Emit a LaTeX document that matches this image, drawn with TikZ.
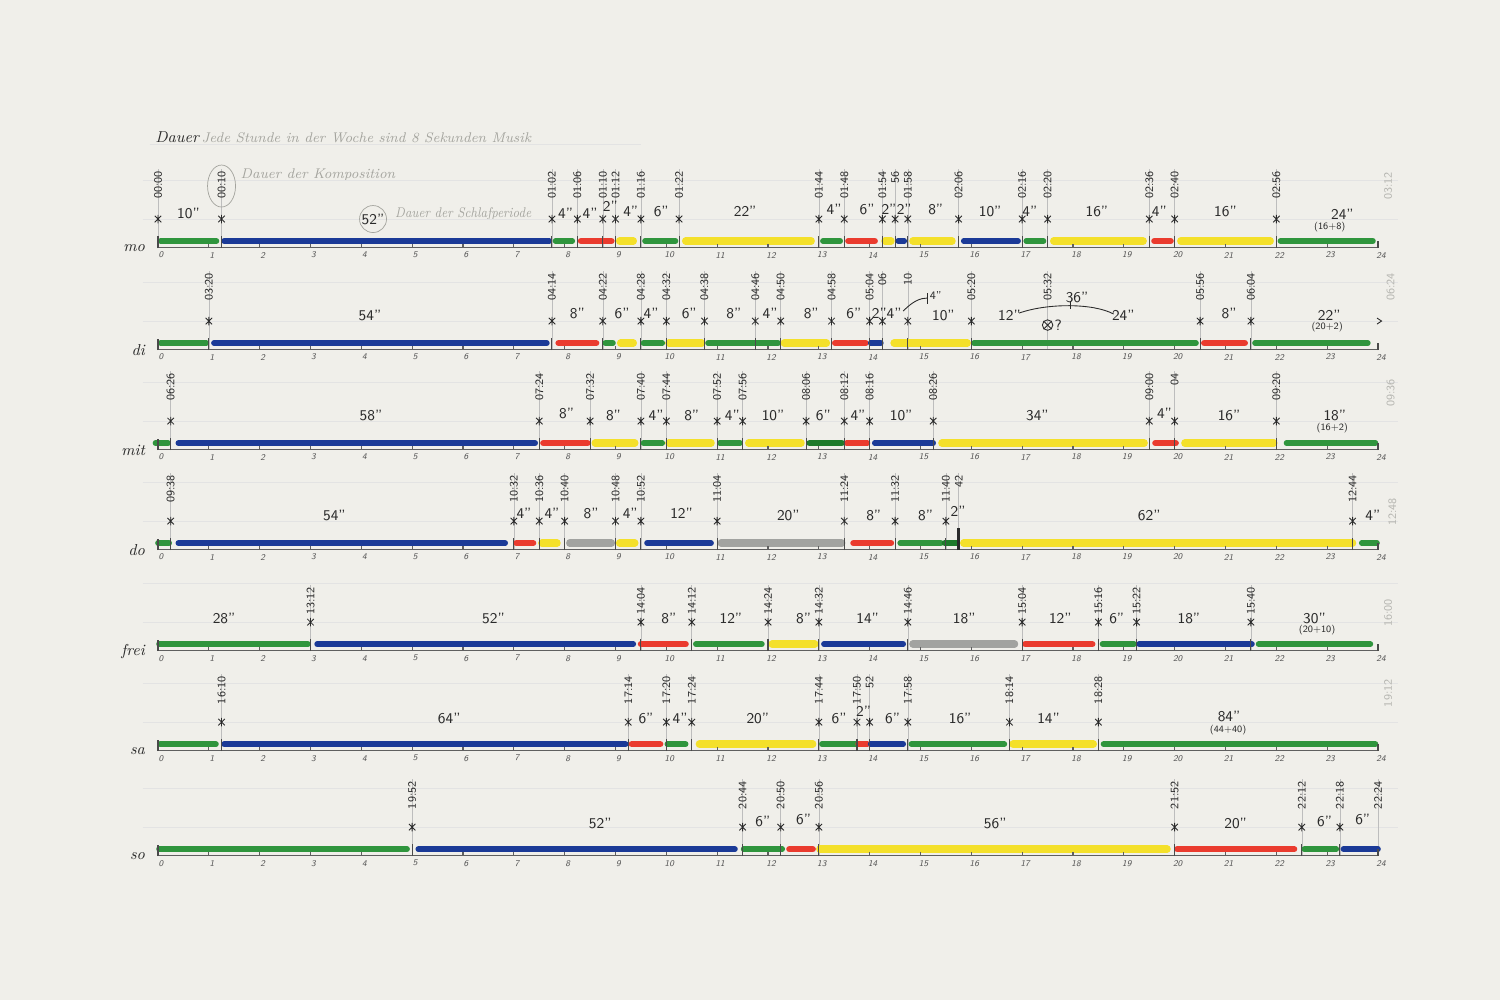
\documentclass[tikz,border=0pt]{standalone}
\usetikzlibrary{calc}
\definecolor{paper}{HTML}{F0EFEA}
\definecolor{cG}{HTML}{2F953D}
\definecolor{cGd}{HTML}{1E7A2B}
\definecolor{cB}{HTML}{1B3A97}
\definecolor{cR}{HTML}{EA3B2E}
\definecolor{cY}{HTML}{F4E02A}
\definecolor{cS}{HTML}{A2A3A0}
\definecolor{pencil}{HTML}{A4A49E}
\definecolor{ink}{HTML}{2A2A2A}
\tikzset{
 seg/.style={line cap=round, line width=3.2pt},
 sg/.style={seg, draw=cG},
 sgd/.style={seg, draw=cGd, line width=3.8pt},
 sb/.style={seg, draw=cB},
 sr/.style={seg, draw=cR, line width=3.6pt},
 sy/.style={seg, draw=cY, line width=4.2pt},
 ss/.style={seg, draw=cS, line width=4.2pt},
 guide/.style={draw=black!11, line width=0.4pt},
 vline/.style={draw=black!26, line width=0.3pt},
 axisline/.style={draw=ink!75, line width=0.6pt},
 btick/.style={draw=ink!85, line width=0.6pt},
 mk/.style={draw=ink, line width=0.5pt},
 ts/.style={rotate=90, font=\fontsize{6.5}{7}\selectfont\sffamily, text=ink, inner sep=0.5pt},
 tsg/.style={ts, text=pencil!80},
 dur/.style={font=\fontsize{8.5}{9}\selectfont\sffamily, text=ink, inner sep=0.5pt},
 subn/.style={font=\fontsize{5.5}{6}\selectfont\sffamily, text=ink, inner sep=0.5pt},
 hnum/.style={font=\fontsize{5}{5}\selectfont\sffamily\itshape, text=ink!80, inner sep=0pt},
 rowlab/.style={font=\fontsize{9}{9}\selectfont\itshape, text=ink, inner sep=0pt},
 note/.style={font=\fontsize{8}{8}\selectfont\itshape, text=pencil, inner sep=0pt},
 astx/.pic={\draw[mk] (0cm,-0.085cm)--(0cm,0.085cm) (-0.065cm,-0.065cm)--(0.065cm,0.065cm) (-0.065cm,0.065cm)--(0.065cm,-0.065cm);},
}
% #1 axis y, #2 name, #3 label, #4 timestamps, #5 markers, #6 segments, #7 durations, #8 timestamp top offset
\newcommand\DrawRow[8]{%
 \def\rowA{#1}\def\rowT{#8}%
 \draw[guide] (-0.3,\rowA-67) -- (24.4,\rowA-67);
 \draw[guide] (-0.3,\rowA-28) -- (24.4,\rowA-28);
 \foreach \h/\t [count=\i] in {#4} {
   \draw[vline] (\h,\rowA-\rowT-1) -- (\h,\rowA);
   \node[ts, anchor=east] (#2-ts\i) at (\h,\rowA-\rowT) {\t};
 }
 \foreach \c/\a/\b in {#6} { \draw[\c] (\a,\rowA-6) -- (\b,\rowA-6); }
 \draw[axisline] (0,\rowA) -- (24,\rowA);
 \foreach \k in {1,...,23} \draw[axisline] (\k,\rowA) -- (\k,\rowA-3.5);
 \draw[btick] (0,\rowA+1) -- (0,\rowA-10);
 \draw[btick] (24,\rowA+1) -- (24,\rowA-6);
 \foreach \k in {0,...,24} \node[hnum] (#2-n\k) at (\k+0.06,\rowA+8) {\k};
 \foreach \h in {#5} { \draw[btick] (\h,\rowA+1) -- (\h,\rowA-11); \pic at (\h,\rowA-28) {astx}; }
 \foreach \h/\dy/\t [count=\i] in {#7} { \node[dur] (#2-d\i) at (\h,\rowA-\dy) {\t}; }
 \node[rowlab, anchor=east] (#2-lab) at (-0.25,\rowA+1) {#3};
}
\begin{document}
\begin{tikzpicture}[x=1.016667cm, y=-0.02cm]
\useasboundingbox (-3.1083,0) rectangle (26.4,1000);
\fill[paper] (-3.1083,0) rectangle (26.4,1000);

% header
\draw[guide] (-0.16,144) -- (9.5,144);
\node[font=\fontsize{9}{9}\selectfont\itshape, text=ink, inner sep=0pt, anchor=base west] (dauer) at (-0.06,142) {Dauer};
\node[note, anchor=base west] (jede) at (0.85,142) {Jede Stunde in der Woche sind 8 Sekunden Musik};
\node[note, anchor=base west] (komp) at (1.62,178) {Dauer der Komposition};
\node[note, anchor=base west] (schlaf) at (4.66,217) {\scalebox{0.86}[1]{Dauer der Schlafperiode}};

% Montag
\DrawRow{247}{mo}{mo}
 {0/00:00, 1.25/00:10, 7.75/01:02, 8.25/01:06, 8.75/01:10, 9/01:12, 9.5/01:16, 10.25/01:22, 13/01:44, 13.5/01:48, 14.25/01:54, 14.5/56, 14.75/01:58, 15.75/02:06, 17/02:16, 17.5/02:20, 19.5/02:36, 20/02:40, 22/02:56}
 {0,1.25,7.75,8.25,8.75,9,9.5,10.25,13,13.5,14.25,14.5,14.75,15.75,17,17.5,19.5,20,22}
 {sg/0.05/1.15, sb/1.3/7.7, sg/7.82/8.15, sr/8.32/8.92, sy/9.08/9.35, sg/9.58/10.18, sy/10.38/12.85, sg/13.08/13.42, sr/13.58/14.1, sy/14.3/14.42, sb/14.56/14.68, sy/14.85/15.62, sb/15.85/16.92, sg/17.08/17.42, sy/17.62/19.38, sr/19.6/19.92, sy/20.12/21.88, sg/22.08/23.9}
 {0.6/34/10", 8.02/34/4", 8.5/34/4", 8.9/41/2", 9.3/36/4", 9.9/36/6", 11.55/36/22", 13.3/38/4", 13.95/38/6", 14.38/38/2", 14.68/38/2", 15.3/38/8", 16.37/36/10", 17.15/36/4", 18.47/36/16", 19.7/36/4", 21.0/36/16", 23.3/33/24"}
 {77}
\draw[pencil] (1.25,186) ellipse [x radius=0.28cm, y radius=0.42cm];
\node[dur] (mo-52) at (4.23,219) {52"};
\draw[pencil] (mo-52.center) circle [radius=0.27cm];
\node[subn] (mo-sum) at (23.05,227) {(16+8)};
\node[tsg, anchor=east] (mo-end) at (24.2,171) {03:12};

% Dienstag
\DrawRow{349}{di}{di}
 {1/03:20, 7.75/04:14, 8.75/04:22, 9.5/04:28, 10/04:32, 10.75/04:38, 11.75/04:46, 12.25/04:50, 13.25/04:58, 14/05:04, 14.25/06, 14.75/10, 16/05:20, 17.5/05:32, 20.5/05:56, 21.5/06:04}
 {1,7.75,8.75,9.5,10,10.75,11.75,12.25,13.25,14,14.25,14.75,16,20.5,21.5}
 {sg/0.05/0.95, sb/1.1/7.65, sr/7.88/8.62, sg/8.8/8.95, sy/9.1/9.35, sg/9.55/9.92, sy/10.05/10.7, sg/10.82/12.2, sy/12.32/13.15, sr/13.32/13.92, sb/14.02/14.22, sy/14.48/15.92, sg/16.05/20.42, sr/20.58/21.38, sg/21.58/23.8}
 {4.17/34/54", 8.25/36/8", 9.13/36/6", 9.7/36/4", 10.45/36/6", 11.33/36/8", 12.04/36/4", 12.85/36/8", 13.69/36/6", 14.19/36/2", 14.48/36/4", 15.45/34/10", 16.75/34/12", 18.99/34/24", 21.07/36/8", 23.04/34/22"}
 {77}
\draw[mk] (14.66,311) .. controls (14.85,301) and (15.0,298) .. (15.13,298);
\draw[mk] (15.13,293) -- (15.13,304);
\node[subn, font=\fontsize{6.5}{7}\selectfont\sffamily] (di-4b) at (15.3,295) {4"};
\draw[mk] (16.94,313) .. controls (17.5,303) and (18.4,303) .. (18.8,314);
\draw[mk] (17.95,301) -- (17.95,309);
\node[dur] (di-36) at (18.08,297) {36"};
\node[circle, draw=ink, line width=0.5pt, inner sep=0pt, minimum size=0.21cm] (di-q) at (17.5,325) {};
\draw[mk] (di-q.45) -- (di-q.225) (di-q.135) -- (di-q.315);
\node[dur, anchor=west] (di-qm) at (di-q.east) {?};
\draw[mk] (23.98,318) -- (24.07,321) -- (23.98,324);
\node[subn] (di-sum) at (23.0,327) {(20+2)};
\node[tsg, anchor=east] (di-end) at (24.25,272) {06:24};

% Mittwoch
\DrawRow{449}{mit}{mit}
 {0.25/06:26, 7.5/07:24, 8.5/07:32, 9.5/07:40, 10/07:44, 11/07:52, 11.5/07:56, 12.75/08:06, 13.5/08:12, 14/08:16, 15.25/08:26, 19.5/09:00, 20/04, 22/09:20}
 {0.25,7.5,8.5,9.5,10,11,11.5,12.75,13.5,14,15.25,19.5,20,22}
 {sg/-0.05/0.2, sb/0.4/7.42, sr/7.58/8.45, sy/8.6/9.38, sg/9.55/9.92, sy/10.05/10.88, sg/11.05/11.45, sy/11.62/12.65, sgd/12.82/13.45, sr/13.55/13.95, sb/14.1/15.25, sy/15.42/19.4, sr/19.62/20.02, sy/20.2/21.95, sg/22.2/23.95}
 {4.19/34/58", 8.04/36/8", 8.96/34/8", 9.8/34/4", 10.5/34/8", 11.3/34/4", 12.1/34/10", 13.09/34/6", 13.77/34/4", 14.62/34/10", 17.3/34/34", 19.8/36/4", 21.07/34/16", 23.15/34/18"}
 {77}
\node[subn] (mit-sum) at (23.1,428) {(16+2)};
\node[tsg, anchor=east] (mit-end) at (24.25,378) {09:36};

% Donnerstag
\DrawRow{549}{do}{do}
 {0.25/09:38, 7/10:32, 7.5/10:36, 8/10:40, 9/10:48, 9.5/10:52, 11/11:04, 13.5/11:24, 14.5/11:32, 15.5/11:40, 15.75/42, 23.5/12:44}
 {0.25,7,7.5,8,9,9.5,11,13.5,14.5,15.5,23.5}
 {sg/0/0.22, sb/0.4/6.83, sr/7.05/7.38, sy/7.55/7.85, ss/8.1/8.92, sy/9.08/9.38, sb/9.62/10.88, ss/11.08/13.45, sr/13.68/14.42, sg/14.6/15.4, sgd/15.48/15.7, sy/15.85/23.5, sg/23.68/23.98}
 {3.47/34/54", 7.2/36/4", 7.75/36/4", 8.52/36/8", 9.29/36/4", 10.3/36/12", 12.4/34/20", 14.08/34/8", 15.1/34/8", 15.74/38/2", 19.5/34/62", 23.9/34/4"}
 {75}
\draw[ink, line width=1.3pt] (15.75,550) -- (15.75,528);
\node[tsg, anchor=east] (do-end) at (24.28,497) {12:48};

% Freitag
\DrawRow{650}{frei}{frei}
 {3/13:12, 9.5/14:04, 10.5/14:12, 12/14:24, 13/14:32, 14.75/14:46, 17/15:04, 18.5/15:16, 19.25/15:22, 21.5/15:40}
 {3,9.5,10.5,12,13,14.75,17,18.5,19.25,21.5}
 {sg/0.02/2.95, sb/3.13/9.35, sr/9.5/10.38, sg/10.58/11.88, sy/12.08/12.92, sb/13.1/14.66, ss/14.85/16.85, sr/17.06/18.38, sg/18.58/19.2, sb/19.3/21.52, sg/21.65/23.85}
 {1.3/32/28", 6.6/32/52", 10.05/32/8", 11.27/32/12", 12.7/32/8", 13.96/32/14", 15.86/32/18", 17.75/32/12", 18.86/32/6", 20.28/32/18", 22.75/32/30"}
 {64}
\node[subn] (frei-sum) at (22.8,630) {(20+10)};
\node[tsg, anchor=east] (frei-end) at (24.2,598) {16:00};

% Samstag
\DrawRow{750}{sa}{sa}
 {1.25/16:10, 9.25/17:14, 10/17:20, 10.5/17:24, 13/17:44, 13.75/17:50, 14/52, 14.75/17:58, 16.75/18:14, 18.5/18:28}
 {1.25,9.25,10,10.5,13,13.75,14,14.75,16.75,18.5}
 {sg/0.04/1.14, sb/1.3/9.2, sr/9.32/9.88, sg/10.02/10.38, sy/10.65/12.88, sg/13.06/13.72, sr/13.78/13.95, sb/14.02/14.66, sg/14.82/16.65, sy/16.82/18.4, sg/18.6/23.95}
 {5.73/32/64", 9.6/32/6", 10.27/32/4", 11.8/32/20", 13.4/32/6", 13.88/39/2", 14.45/32/6", 15.78/32/16", 17.52/32/14", 21.07/34/84"}
 {75}
\node[subn] (sa-sum) at (21.05,730) {(44+40)};
\node[tsg, anchor=east] (sa-end) at (24.2,678) {19:12};

% Sonntag
\DrawRow{855}{so}{so}
 {5/19:52, 11.5/20:44, 12.25/20:50, 13/20:56, 20/21:52, 22.5/22:12, 23.25/22:18, 24/22:24}
 {5,11.5,12.25,13,20,22.5,23.25}
 {sg/0.02/4.9, sb/5.12/11.35, sg/11.52/12.28, sr/12.42/12.88, sy/13.02/19.85, sr/20.05/22.35, sg/22.55/23.18, sb/23.32/24.0}
 {8.7/32/52", 11.9/34/6", 12.7/36/6", 16.47/32/56", 21.2/32/20", 22.95/34/6", 23.7/36/6"}
 {75}
\end{tikzpicture}
\end{document}
